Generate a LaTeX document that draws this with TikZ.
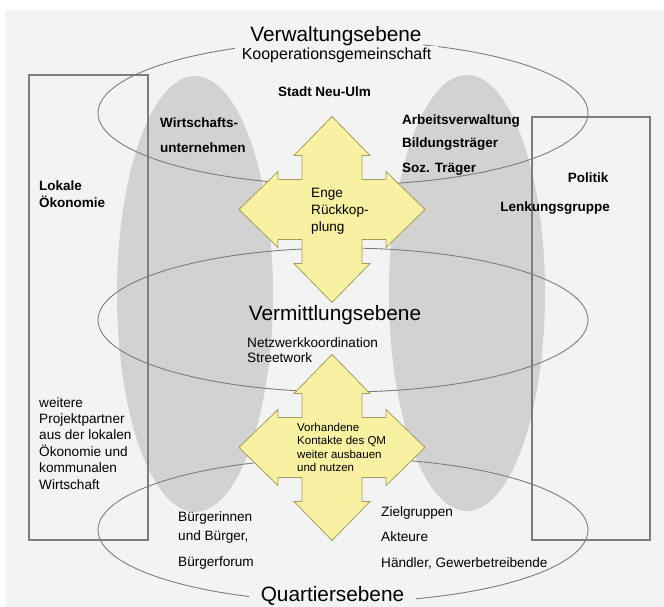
\documentclass[tikz,border=0pt]{standalone}
\usepackage{fontspec}
\setmainfont{Liberation Sans}
\definecolor{bgc}{HTML}{F3F3F3}
\definecolor{blobc}{HTML}{D2D2D2}
\definecolor{yelc}{HTML}{F7F1A1}
\definecolor{yelline}{HTML}{A59E62}
\definecolor{lnc}{HTML}{7C7C7C}
\tikzset{
  lvl/.style={draw=lnc, line width=0.9pt},
  sidebox/.style={draw=lnc, line width=1.2pt},
  blobshape/.style={fill=blobc},
  quad/.style={fill=yelc, draw=yelline, line width=0.8pt, line join=miter},
  leveltitle/.style={font=\fontsize{20.8}{25}\selectfont, inner sep=0pt, anchor=base},
  boldtxt/.style={font=\bfseries\fontsize{13.5}{16}\selectfont, inner sep=0pt, anchor=base west},
  regtxt/.style={font=\fontsize{13.6}{16.4}\selectfont, inner sep=0pt, anchor=base west},
  arrtxt/.style={font=\fontsize{11.5}{13.5}\selectfont, inner sep=0pt, anchor=base west},
}
\newcommand{\quadpath}{(0,-93) -- (38,-54) -- (30,-54) -- (30,-30) -- (54,-30) -- (54,-38) -- (93,0) -- (54,38) -- (54,30) -- (30,30) -- (30,54) -- (38,54) -- (0,93) -- (-38,54) -- (-30,54) -- (-30,30) -- (-54,30) -- (-54,38) -- (-93,0) -- (-54,-38) -- (-54,-30) -- (-30,-30) -- (-30,-54) -- (-38,-54) -- cycle}
\begin{document}
\begin{tikzpicture}[x=1pt,y=-1pt]
\useasboundingbox (0,0) rectangle (664,607);
\fill[white] (0,0) rectangle (664,607);
\fill[bgc] (5,10) rectangle (664,607);
% gray columns
\path[blobshape] (195,294) ellipse [x radius=78, y radius=218];
\path[blobshape] (467,293) ellipse [x radius=78, y radius=218];
% level ellipses
\draw[lvl] (343,113) ellipse [x radius=245, y radius=72];
\draw[lvl] (343,320) ellipse [x radius=245, y radius=72];
\draw[lvl] (343,530) ellipse [x radius=245, y radius=72];
% side boxes
\draw[sidebox] (29,75) rectangle (148,540);
\draw[sidebox] (532,117) rectangle (650,540);
% quad arrows
\path[quad, shift={(332,209.5)}] \quadpath;
\path[quad, shift={(332,447.5)}] \quadpath;
% titles
\node[leveltitle, fill=bgc, inner sep=1pt] (verw) at (336,41.5) {Verwaltungsebene};
\node[font=\fontsize{16}{19}\selectfont, anchor=base, fill=bgc, inner xsep=7pt, inner ysep=1.5pt] (koop) at (336.5,59.5) {Kooperationsgemeinschaft};
\node[leveltitle] (verm) at (335,320) {Vermittlungsebene};
\node[leveltitle, fill=bgc, inner xsep=12pt, inner ysep=3pt] (quart) at (332.5,601.5) {Quartiersebene};
% top level texts
\node[boldtxt, anchor=base] (stadt) at (324.5,96.5) {Stadt Neu-Ulm};
\node[boldtxt] (wi1) at (160,127.5) {Wirtschafts-};
\node[boldtxt] (wi2) at (160,152.5) {unternehmen};
\node[boldtxt] (ar1) at (402,124.5) {Arbeitsverwaltung};
\node[boldtxt] (ar2) at (402,147.5) {Bildungsträger};
\node[boldtxt] (ar3) at (402,172.5) {Soz. Träger};
\node[boldtxt] (lo1) at (39,190.5) {Lokale};
\node[boldtxt] (lo2) at (39,207.5) {Ökonomie};
\node[boldtxt, anchor=base] (pol) at (588,182.5) {Politik};
\node[boldtxt, anchor=base] (lenk) at (555,211.5) {Lenkungsgruppe};
% arrow texts
\node[regtxt] (en1) at (311,197.5) {Enge};
\node[regtxt] (en2) at (311,214.5) {Rückkop-};
\node[regtxt] (en3) at (311,231.5) {plung};
\node[arrtxt] (vo1) at (297,431) {Vorhandene};
\node[arrtxt] (vo2) at (297,444.5) {Kontakte des QM};
\node[arrtxt] (vo3) at (297,458) {weiter ausbauen};
\node[arrtxt] (vo4) at (297,471.5) {und nutzen};
% middle texts
\node[regtxt] (ne1) at (247,347.5) {Netzwerkkoordination};
\node[regtxt] (ne2) at (247,362.5) {Streetwork};
% left box lower text
\node[regtxt] (we1) at (39,407) {weitere};
\node[regtxt] (we2) at (39,423.4) {Projektpartner};
\node[regtxt] (we3) at (39,439.8) {aus der lokalen};
\node[regtxt] (we4) at (39,456.2) {Ökonomie und};
\node[regtxt] (we5) at (39,472.6) {kommunalen};
\node[regtxt] (we6) at (39,489) {Wirtschaft};
% bottom texts
\node[regtxt] (bu1) at (178,521.5) {Bürgerinnen};
\node[regtxt] (bu2) at (178,540.5) {und Bürger,};
\node[regtxt] (bu3) at (178,566.5) {Bürgerforum};
\node[regtxt] (zi1) at (381,516.5) {Zielgruppen};
\node[regtxt] (zi2) at (381,541.5) {Akteure};
\node[regtxt] (zi3) at (381,567.5) {Händler, Gewerbetreibende};
\end{tikzpicture}
\end{document}
